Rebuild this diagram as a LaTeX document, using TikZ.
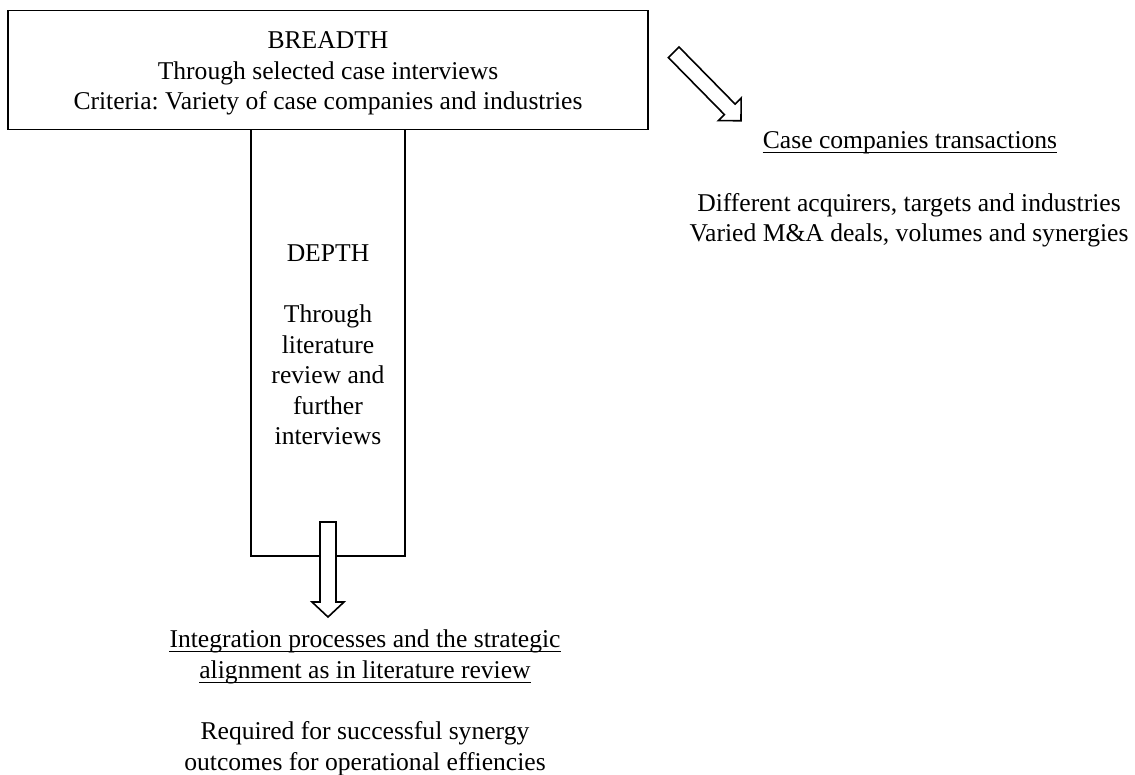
\documentclass[tikz,border=0pt]{standalone}
\usepackage{fontspec}
\setmainfont{Liberation Serif}
\frenchspacing
\begin{document}
\begin{tikzpicture}[x=1pt,y=-1pt,
  txt/.style={font=\fontsize{25.6}{30.5}\selectfont, align=center, inner sep=0pt},
  frame/.style={draw, line width=1.6pt},
  blockarrow/.style={draw, fill=white, line width=1.6pt, line join=miter},
  uline/.style={line width=1.5pt}]
\useasboundingbox (0,0) rectangle (1135,774);
% BREADTH box
\node[frame, minimum width=640pt, minimum height=119pt, inner sep=0pt] (breadth) at (328,70) {};
\node[txt, anchor=north] (breadthtext) at (328,31.5)
  {BREADTH\\Through selected case interviews\\Criteria: Variety of case companies and industries};
% DEPTH column
\node[frame, minimum width=154pt, minimum height=426.5pt, inner sep=0pt] (depth) at (328,342.75) {};
\node[txt, anchor=north] (depthtext) at (328,245)
  {DEPTH\\[30.5pt]Through\\literature\\review and\\further\\interviews};
% down arrow
\begin{scope}[shift={(328,522)}, rotate=-90]
  \draw[blockarrow] (0,-8) -- (80,-8) -- (80,-16) -- (95,0) -- (80,16) -- (80,8) -- (0,8) -- cycle;
\end{scope}
% diagonal arrow
\begin{scope}[shift={(673.7,52.3)}, rotate=-45.5]
  \draw[blockarrow] (0,-7.5) -- (80,-7.5) -- (80,-16) -- (96,0) -- (80,16) -- (80,7.5) -- (0,7.5) -- cycle;
\end{scope}
% right texts
\node[txt, anchor=base] (casetitle) at (910,148) {Case companies transactions};
\draw[uline] ([yshift=-4.5pt]casetitle.base west) -- ([yshift=-4.5pt]casetitle.base east);
\node[txt, anchor=north] (casebody) at (909,193.2)
  {Different acquirers, targets and industries\\Varied M\&A deals, volumes and synergies};
% bottom texts
\node[txt, anchor=base] (integ1) at (365,647) {Integration processes and the strategic};
\draw[uline] ([yshift=-4.5pt]integ1.base west) -- ([yshift=-4.5pt]integ1.base east);
\node[txt, anchor=base] (integ2) at (365,678) {alignment as in literature review};
\draw[uline] ([yshift=-4.5pt]integ2.base west) -- ([yshift=-4.5pt]integ2.base east);
\node[txt, anchor=north] (required) at (365,721.5)
  {Required for successful synergy\\outcomes for operational effiencies};
\end{tikzpicture}
\end{document}
